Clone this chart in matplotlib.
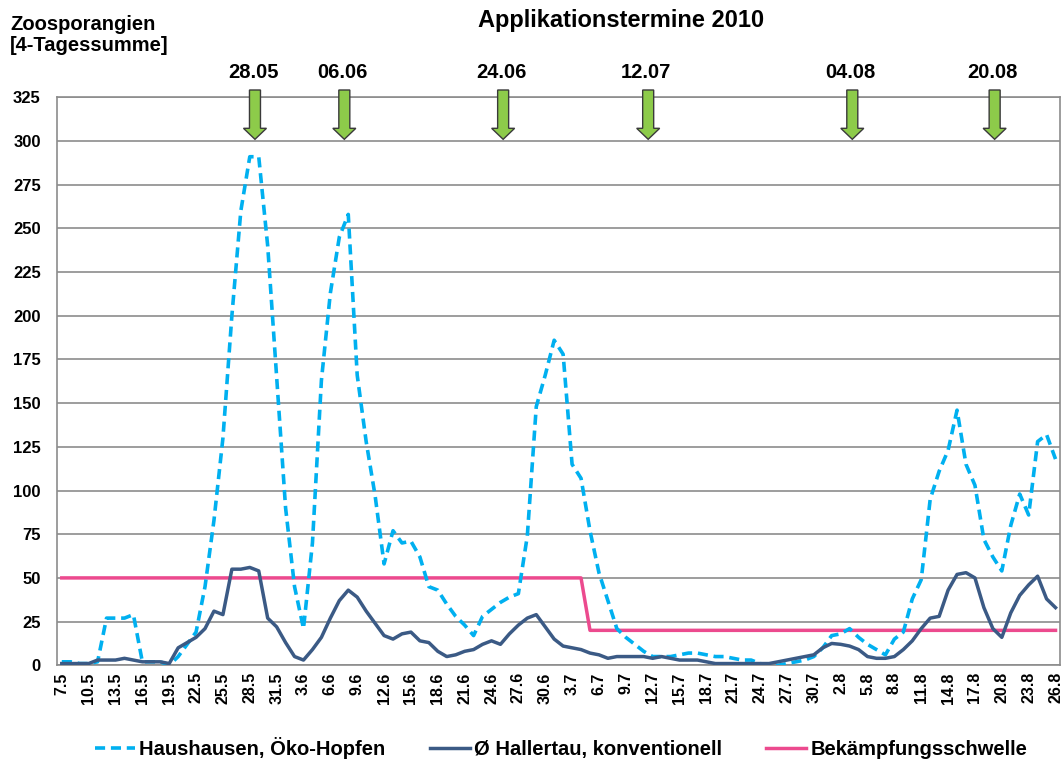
import datetime as dt
import matplotlib
matplotlib.use("Agg")
import matplotlib.pyplot as plt
from matplotlib.patches import Polygon
from matplotlib.lines import Line2D

plt.rcParams['font.family'] = ['Liberation Sans', 'DejaVu Sans']
plt.rcParams['font.weight'] = 'bold'

# ---------------- data ----------------
start = dt.date(2010, 5, 7)
categories = [f"{(start + dt.timedelta(days=k)).day}.{(start + dt.timedelta(days=k)).month}" for k in range(112)]

haushausen = [2, 2, 1, 1, 2, 27, 27, 27, 29, 2,
              2, 2, 0, 5, 12, 19, 45, 83, 130, 200,
              260, 291, 291, 240, 165, 90, 45, 21, 70, 163,
              213, 245, 258, 166, 128, 97, 58, 77, 70, 71,
              62, 45, 43, 35, 28, 23, 17, 28, 32, 36,
              39, 41, 74, 148, 166, 186, 178, 115, 107, 77,
              53, 37, 21, 16, 12, 8, 5, 5, 5, 6,
              7, 7, 6, 5, 5, 4, 3, 3, 1, 0,
              0, 1, 2, 3, 5, 10, 17, 18, 21, 16,
              12, 9, 6, 15, 19, 38, 49, 95, 111, 123,
              146, 115, 103, 72, 62, 54, 80, 98, 86, 128,
              132, 118]

hallertau = [1, 1, 1, 1, 3, 3, 3, 4, 3, 2,
             2, 2, 1, 10, 13, 16, 21, 31, 29, 55,
             55, 56, 54, 27, 22, 13, 5, 3, 9, 16,
             27, 37, 43, 39, 31, 24, 17, 15, 18, 19,
             14, 13, 8, 5, 6, 8, 9, 12, 14, 12,
             18, 23, 27, 29, 22, 15, 11, 10, 9, 7,
             6, 4, 5, 5, 5, 5, 4, 5, 4, 3,
             3, 3, 2, 1, 1, 1, 1, 1, 1, 1,
             2, 3, 4, 5, 6, 10, 12.5, 12, 11, 9,
             5, 4, 4, 5, 9, 14, 21, 27, 28, 43,
             52, 53, 50, 33, 21, 16, 30, 40, 46, 51,
             38, 33]

schwelle = [50] * 59 + [20] * 53

app_labels = ['28.05', '06.06', '24.06', '12.07', '04.08', '20.08']
app_pos = [21.58, 31.56, 49.3, 65.5, 88.3, 104.2]

yticks = list(range(0, 326, 25))

# ---------------- figure ----------------
W, H = 1064, 763
fig = plt.figure(figsize=(W / 100, H / 100), dpi=100)
fig.patch.set_facecolor('white')
left, right, top, bottom = 57.3, 1060, 97.3, 665.3
ax = fig.add_axes([left / W, 1 - bottom / H, (right - left) / W, (bottom - top) / H])

x = list(range(len(categories)))
c_blue = '#00B0F0'
c_dark = '#3B5A85'
c_pink = '#EC4A8E'
dash = (0, (2.8, 1.6))

ax.plot(x, haushausen, color=c_blue, lw=2.6, linestyle=dash,
        solid_joinstyle='round', dash_capstyle='butt', zorder=3,
        label='Haushausen, Öko-Hopfen')
ax.plot(x, hallertau, color=c_dark, lw=2.5, solid_joinstyle='round', zorder=4,
        label='Ø Hallertau, konventionell')
ax.plot(x, schwelle, color=c_pink, lw=2.5, zorder=2, label='Bekämpfungsschwelle')

ax.set_xlim(-0.5, len(categories) - 0.5)
ax.set_ylim(0, 325)
ax.set_yticks(yticks)
ax.set_yticklabels([str(v) for v in yticks], fontsize=12, fontweight='bold')
ax.set_xticks(x[::3])
ax.set_xticklabels(categories[::3], rotation=90, fontsize=11.5, fontweight='bold',
                   va='top', ha='center')
ax.tick_params(axis='y', length=0, pad=12)
ax.tick_params(axis='x', length=0, pad=5)
ax.grid(axis='y', color='#8C8C8C', lw=1.2, zorder=0)
ax.set_axisbelow(True)
for s in ax.spines.values():
    s.set_color('#8C8C8C')
    s.set_linewidth(1.2)

# application arrows
px_x = (right - left) / len(categories)
px_y = (bottom - top) / 325.0
hw, HW = 5.5 / px_x, 11.5 / px_x
y_top = (bottom - 90) / px_y
y_base = (bottom - 128.3) / px_y
y_tip = (bottom - 139.3) / px_y
y_lab = (bottom - 72) / px_y
for lab, xc in zip(app_labels, app_pos):
    verts = [(xc - hw, y_top), (xc + hw, y_top), (xc + hw, y_base), (xc + HW, y_base),
             (xc, y_tip), (xc - HW, y_base), (xc - hw, y_base)]
    ax.add_patch(Polygon(verts, closed=True, facecolor='#8DCB4A', edgecolor='#3A3A3A',
                         lw=1.0, zorder=6, clip_on=False))
    ax.text(xc - 0.2, y_lab, lab, ha='center', va='center', fontsize=14.5,
            fontweight='bold', clip_on=False)

fig.text(621 / W, 1 - 20 / H, 'Applikationstermine 2010', ha='center', va='center',
         fontsize=17, fontweight='bold')
fig.text(10 / W, 1 - 35 / H, 'Zoosporangien\n[4-Tagessumme]', ha='left', va='center',
         fontsize=14.5, fontweight='bold', linespacing=1.15)

handles = [Line2D([], [], color=c_blue, lw=2.6, linestyle=dash),
           Line2D([], [], color=c_dark, lw=2.5),
           Line2D([], [], color=c_pink, lw=2.5)]
fig.legend(handles, ['Haushausen, Öko-Hopfen', 'Ø Hallertau, konventionell', 'Bekämpfungsschwelle'],
           loc='center', bbox_to_anchor=(561 / W, 1 - 748 / H), ncol=3, frameon=False,
           handlelength=2.0, handletextpad=0.2, columnspacing=2.2,
           prop={'weight': 'bold', 'size': 14.5})

fig.savefig('out.png', dpi=100, facecolor='white')
